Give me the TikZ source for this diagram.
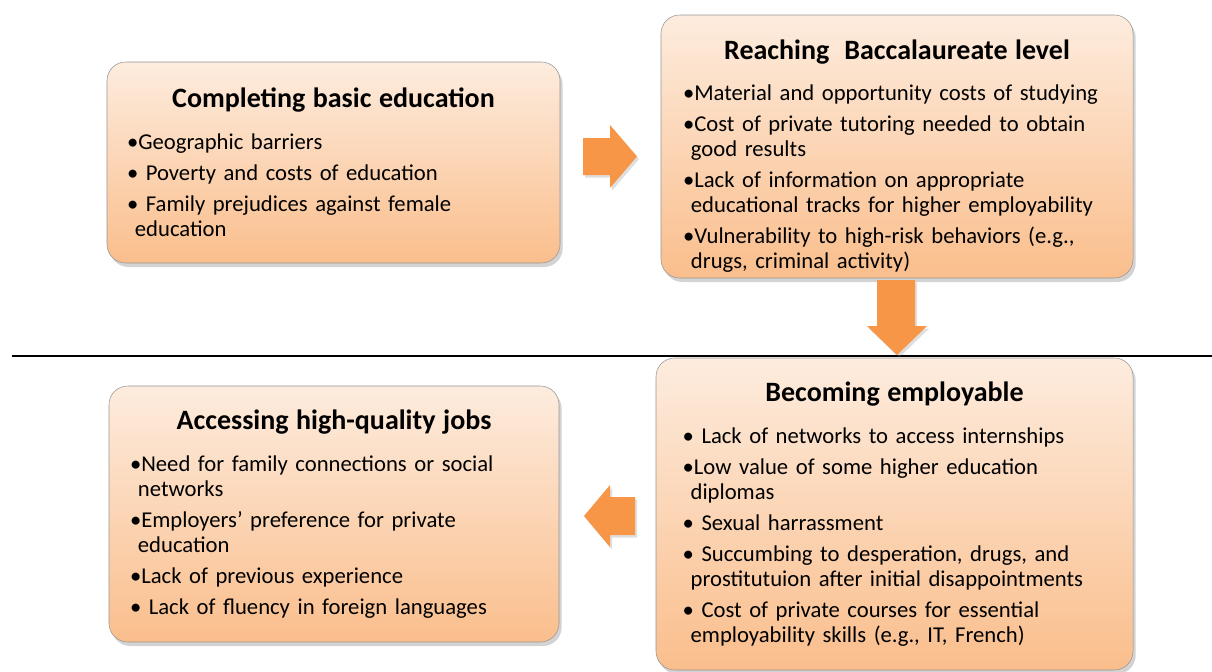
\documentclass[tikz,border=0pt]{standalone}
\usepackage{fontspec}
\setmainfont{Carlito}
\usetikzlibrary{shadows}

\definecolor{peachtop}{RGB}{253,236,222}
\definecolor{peachbot}{RGB}{250,190,140}
\definecolor{flowor}{RGB}{247,150,70}
\definecolor{boxline}{RGB}{150,150,150}

% bullet item with hanging indent, title line
\newcommand\itm[1]{\par\vspace{4.5pt}\hangindent=0.35em\hangafter=1\noindent\textbullet#1}
\newcommand\ttl[1]{{\centering\bfseries\fontsize{21}{22}\selectfont #1\par}\vspace{8pt}}

\begin{document}
\begin{tikzpicture}[x=0.75pt,y=-0.75pt,
  stage/.style={draw=boxline,rounded corners=14pt,top color=peachtop,bottom color=peachbot,
    drop shadow={opacity=0.35,shadow xshift=2pt,shadow yshift=-3pt},
    inner ysep=0pt,align=left,font=\fontsize{17}{18.75}\selectfont},
  flow/.style={fill=flowor,drop shadow={opacity=0.25,shadow xshift=1.5pt,shadow yshift=-2pt}}]

    \useasboundingbox (0,0) rectangle (1212,671);

    \node[stage,inner xsep=15pt,text width=309.75pt,minimum height=150.75pt] (basic) at (333.5,162.5)
      {\ttl{Completing basic education}%
       \itm{Geographic barriers}%
       \itm{~Poverty and costs of education}%
       \itm{~Family prejudices against female\newline education}\par};

    \node[stage,inner xsep=16.5pt,text width=321pt,minimum height=197.25pt] (bacc) at (897,146.5)
      {\ttl{\rule{0pt}{29pt}Reaching~ Baccalaureate level}%
       \itm{Material and opportunity costs of studying}%
       \itm{Cost of private tutoring needed to obtain\newline good results}%
       \itm{Lack of information on appropriate\newline educational tracks for higher employability}%
       \itm{Vulnerability to high-risk behaviors (e.g.,\newline drugs, criminal activity)}\par};

    \node[stage,inner xsep=20pt,text width=317.75pt,minimum height=234pt] (employ) at (894.5,514)
      {\ttl{Becoming employable}%
       \itm{~Lack of networks to access internships}%
       \itm{Low value of some higher education\newline diplomas}%
       \itm{~Sexual harrassment}%
       \itm{~Succumbing to desperation, drugs, and\newline prostitutuion after initial disappointments}%
       \itm{~Cost of private courses for essential\newline employability skills (e.g., IT, French)}\par};

    \node[stage,inner xsep=15.75pt,text width=306pt,minimum height=192pt] (jobs) at (334,514)
      {\ttl{Accessing high-quality jobs}%
       \itm{Need for family connections or social\newline networks}%
       \itm{Employers' preference for private\newline education}%
       \itm{Lack of previous experience}%
       \itm{~Lack of fluency in foreign languages}\par};

    \coordinate (rulel) at (12,356);
    \coordinate (ruler) at (1212,356);
    \draw[line width=1.4pt] (rulel) -- (ruler);

    % block arrows between the stages
    \fill[flow] (583,138) -- (610,138) -- (610,125) -- (637,156.5) -- (610,188) -- (610,175) -- (583,175) -- cycle;
    \fill[flow] (877,280) -- (915,280) -- (915,326) -- (927,326) -- (897,355) -- (867,326) -- (877,326) -- cycle;
    \fill[flow] (635,497) -- (610,497) -- (610,485) -- (584,516) -- (610,547) -- (610,535) -- (635,535) -- cycle;
\end{tikzpicture}
\end{document}
